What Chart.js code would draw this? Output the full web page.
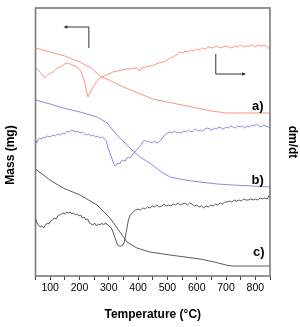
<!DOCTYPE html>
<html>
<head>
<meta charset="utf-8">
<script src="https://cdn.jsdelivr.net/npm/chart.js@4.4.0/dist/chart.umd.min.js"></script>
<style>
  body { margin: 0; background: #fff; }
  canvas { display: block; }
</style>
</head>
<body>
<canvas id="tgaChart" width="300" height="327"></canvas>
<script>
// temperatures (°C) and signals (arbitrary units, stacked a/b/c)
const massT_a = [50,100,150,200,240,270,300,350,400,450,500,550,600,650,700,750,800,850];
const mass_a  = [228,224,220,214,208,200,196,189,183,177,174,171,168,165,163,163,163,163];

const dmdtT_a = [50,60,70,82,95,110,125,140,150,160,168,175,185,195,205,215,222,229,236,246,258,270,285,300,314,330,345,360,372,385,395,400,406,412,425,440,455,470,485,500,510,520,530,543,553,560,570,580,590,600,610,620,630,640,650,660,670,680,690,700,710,720,730,740,750,760,770,780,790,800,810,820,830,840,850];
const dmdt_a  = [208,206,202,198,202,204,208,210,212,213,212,211,210,208,205,197,188,179,183,189,194,198,200,202,204,205,206,207,207,208,208,207,205,208,209,210,211,213,214,216,218,219,221,224,223,225,224,226,225,227,226,228,227,229,228,229,230,228,229,230,229,228,230,229,231,229,230,230,231,229,231,230,231,229,227];

const massT_b = [50,100,144,202,260,294,328,372,406,440,475,509,560,611,670,723,790,850];
const mass_b  = [176,172,168,164,159,153,141,128,119,113,105,99,96,94,92,91,90,89];

const dmdtT_b = [50,55,60,65,70,76,82,90,100,110,118,125,135,144,150,158,165,172,180,190,196,202,210,218,225,232,240,248,255,262,270,278,286,292,297,303,310,316,321,326,331,337,343,350,356,362,368,374,380,386,392,398,404,410,416,422,428,434,440,448,455,462,470,478,485,492,500,508,516,524,532,540,548,556,564,572,580,588,596,604,612,620,628,636,644,652,660,668,676,684,692,700,708,716,724,732,740,748,756,764,772,780,788,796,804,812,820,828,836,844,850];
const dmdt_b  = [136,133,137,138,137,139,138,140,139,141,140,142,141,143,142,145,144,146,145,144,145,143,144,142,141,142,140,141,139,140,138,139,137,135,128,124,118,113,110,111,113,112,115,116,115,118,119,118,121,123,125,127,129,131,134,136,134,135,134,133,135,133,134,136,139,141,143,144,143,145,143,144,143,145,144,146,144,145,147,145,146,145,147,148,147,146,148,147,149,148,147,149,148,150,149,148,150,149,150,148,150,149,151,150,152,150,149,151,150,149,148];

const massT_c = [50,99,144,202,260,304,338,362,396,440,509,560,611,660,700,720,850];
const mass_c  = [107,96,88,81,71,58,44,34,28,24,21,19,17,14,11,10,10];

const dmdtT_c = [50,55,60,66,72,78,84,90,96,102,108,114,120,126,132,138,144,150,156,162,168,174,180,186,192,198,204,210,216,222,228,234,240,246,252,258,264,270,276,282,288,294,300,306,312,318,324,330,336,342,348,353,357,361,365,369,374,380,386,392,400,408,416,424,432,440,448,456,464,472,480,488,496,504,512,520,528,536,544,552,560,568,576,584,592,600,608,616,624,632,640,648,656,664,672,680,688,696,704,712,720,728,736,744,752,760,768,776,784,792,800,808,816,824,832,840,846,850];
const dmdt_c  = [58,53,51,49,50,48,51,53,52,55,56,58,57,60,61,62,63,62,64,63,64,62,63,61,62,60,61,58,59,56,57,53,52,51,53,50,52,51,53,51,53,52,50,49,46,41,36,31,30,30,31,34,40,46,53,58,61,63,65,66,67,66,68,67,69,68,70,69,71,69,70,72,70,71,70,72,71,73,71,72,73,71,73,72,70,71,69,70,68,70,69,71,70,72,71,73,72,74,74,75,74,76,75,76,75,77,76,76,77,76,77,76,78,77,78,77,80,79];

const xTickLabels = [100,200,300,400,500,600,700,800];

const redCol = '#fb8a78';
const blueCol = '#7d7dd8';
const blackCol = '#4a4a4a';
const fontFam = "'Liberation Sans', Arial, sans-serif";

function pts(xs, ys) {
  return xs.map((x, i) => ({ x: x, y: ys[i] }));
}

function line(xs, ys, col) {
  return {
    data: pts(xs, ys),
    borderColor: col,
    borderWidth: 0.9,
    pointRadius: 0,
    tension: 0,
    fill: false
  };
}

// frame, arrows, a)/b)/c) and left title
const extras = {
  id: 'extras',
  afterDraw(chart) {
    const { ctx, chartArea: { left, right, top, bottom } } = chart;
    const xs = chart.scales.x, ys = chart.scales.y;
    ctx.save();

    // frame
    ctx.strokeStyle = '#7a7a7a';
    ctx.lineWidth = 1.6;
    ctx.strokeRect(left, top, right - left, bottom - top);

    // arrows
    ctx.strokeStyle = '#333';
    ctx.fillStyle = '#333';
    ctx.lineWidth = 1;
    function arrow(x1, y1, x2, y2, x3, y3) {
      const p1 = [xs.getPixelForValue(x1), ys.getPixelForValue(y1)];
      const p2 = [xs.getPixelForValue(x2), ys.getPixelForValue(y2)];
      const p3 = [xs.getPixelForValue(x3), ys.getPixelForValue(y3)];
      ctx.beginPath();
      ctx.moveTo(p1[0], p1[1]);
      ctx.lineTo(p2[0], p2[1]);
      ctx.lineTo(p3[0], p3[1]);
      ctx.stroke();
      const dir = Math.sign(p3[0] - p2[0]);
      ctx.beginPath();
      ctx.moveTo(p3[0] + dir * 2, p3[1]);
      ctx.lineTo(p3[0] - dir * 2, p3[1] - 1.8);
      ctx.lineTo(p3[0] - dir * 2, p3[1] + 1.8);
      ctx.closePath();
      ctx.fill();
    }
    arrow(232, 228, 232, 249, 152, 249);
    arrow(665, 222, 665, 202, 762, 202);

    // series labels
    ctx.fillStyle = '#000';
    ctx.font = 'bold 13px ' + fontFam;
    ctx.textAlign = 'center';
    ctx.textBaseline = 'middle';
    ctx.fillText('a)', xs.getPixelForValue(808), ys.getPixelForValue(170));
    ctx.fillText('b)', xs.getPixelForValue(808), ys.getPixelForValue(96));
    ctx.fillText('c)', xs.getPixelForValue(812), ys.getPixelForValue(24));

    // left axis title
    ctx.font = 'bold 12px ' + fontFam;
    ctx.translate(10.5, 155);
    ctx.rotate(-Math.PI / 2);
    ctx.fillText('Mass (mg)', 0, 0);
    ctx.restore();
  }
};

const config = {
  type: 'line',
  data: {
    datasets: [
      line(massT_a, mass_a, redCol),
      line(dmdtT_a, dmdt_a, redCol),
      line(massT_b, mass_b, blueCol),
      line(dmdtT_b, dmdt_b, blueCol),
      line(massT_c, mass_c, blackCol),
      line(dmdtT_c, dmdt_c, blackCol)
    ]
  },
  options: {
    responsive: false,
    animation: false,
    devicePixelRatio: 1,
    layout: { padding: { top: 8, left: 0, right: 0, bottom: 0 } },
    plugins: {
      legend: { display: false },
      tooltip: { enabled: false }
    },
    scales: {
      x: {
        type: 'linear',
        min: 50,
        max: 850,
        afterFit(s) { s.height = 51; },
        ticks: {
          stepSize: 50,
          autoSkip: false,
          maxRotation: 0,
          padding: 2,
          color: '#000',
          font: { size: 10.5, family: fontFam },
          callback: (v) => xTickLabels.includes(v) ? String(v) : ''
        },
        grid: {
          display: true,
          drawOnChartArea: false,
          drawTicks: true,
          tickLength: 4,
          color: '#444'
        },
        border: { display: false },
        title: {
          display: true,
          text: 'Temperature (°C)',
          color: '#000',
          font: { size: 12, weight: 'bold', family: fontFam },
          padding: { top: 4, bottom: 5 }
        }
      },
      y: {
        min: 0,
        max: 268,
        afterFit(s) { s.width = 35.5; },
        ticks: { display: false },
        grid: { display: false },
        border: { display: false }
      },
      y2: {
        position: 'right',
        min: 0,
        max: 268,
        afterFit(s) { s.width = 30; },
        ticks: { display: false },
        grid: { display: false },
        border: { display: false },
        title: {
          display: true,
          text: 'dm/dt',
          color: '#000',
          font: { size: 12, weight: 'bold', family: fontFam },
          padding: { top: 0, bottom: 5 }
        }
      }
    }
  },
  plugins: [extras]
};

const tgaChart = new Chart(document.getElementById('tgaChart'), config);
</script>
</body>
</html>
